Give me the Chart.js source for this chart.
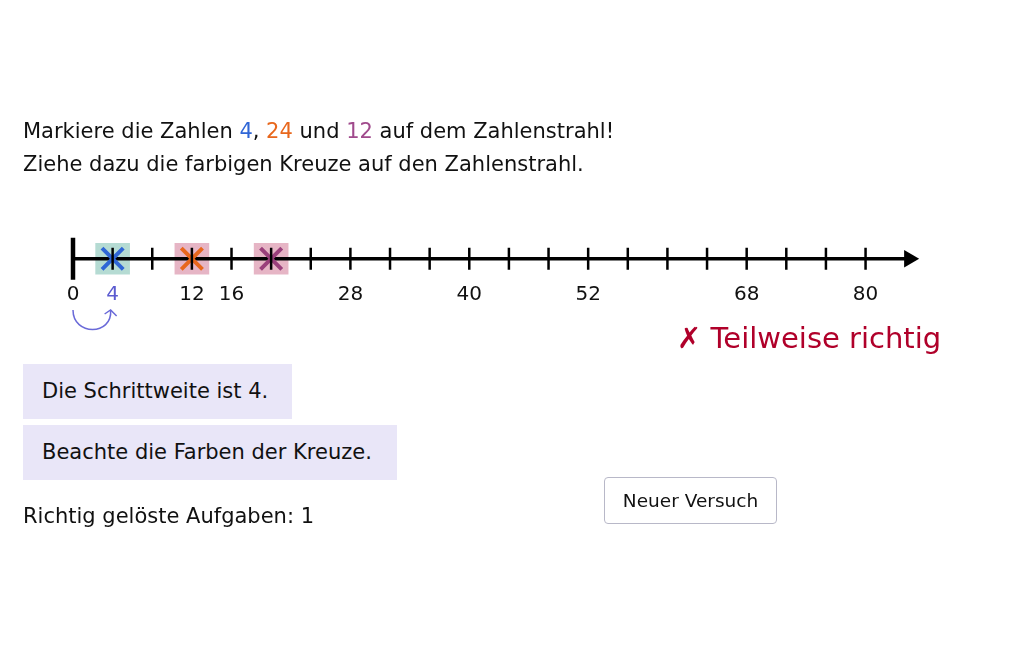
<!DOCTYPE html>
<html><head><meta charset="utf-8">
<script src="https://cdn.jsdelivr.net/npm/chart.js@4"></script>
<style>
body{margin:0;background:#fff;font-family:"DejaVu Sans","Open Sans",sans-serif;}
#wrap{position:relative;width:1032px;height:645px;}
canvas{position:absolute;left:0;top:0;}
.t{position:absolute;font-size:21px;color:#111;white-space:nowrap;}
.box{position:absolute;background:#e9e6f8;font-size:21px;color:#111;padding-left:19px;box-sizing:border-box;line-height:55px;}
#btn{position:absolute;left:604px;top:477px;width:173px;height:47px;border:1px solid #b8b8c8;border-radius:4px;box-sizing:border-box;text-align:center;line-height:45px;font-size:18.5px;color:#111;}
</style></head><body>
<div id="wrap">
<canvas id="myChart" width="1032" height="645"></canvas>
<div class="t" style="left:23px;top:119px">Markiere die Zahlen <span style="color:#2f66d6">4</span>, <span style="color:#e8671c">24</span> und <span style="color:#a04a8c">12</span> auf dem Zahlenstrahl!</div>
<div class="t" style="left:23px;top:152px">Ziehe dazu die farbigen Kreuze auf den Zahlenstrahl.</div>
<div class="t" style="left:677px;top:321px;font-size:29px;color:#b0002a">✗ Teilweise richtig</div>
<div class="box" style="left:23px;top:364px;width:269px;height:55px">Die Schrittweite ist 4.</div>
<div class="box" style="left:23px;top:425px;width:374px;height:55px">Beachte die Farben der Kreuze.</div>
<div class="t" style="left:23px;top:504px">Richtig gelöste Aufgaben: 1</div>
<div id="btn">Neuer Versuch</div>
</div>
<script>
const tickValues = [4,8,12,16,20,24,28,32,36,40,44,48,52,56,60,64,68,72,76,80];
const axisTicks = [0].concat(tickValues);
const shownLabels = [0,4,12,16,28,40,52,68,80];
const labelColors = {4: "#5b5bd0"};
const crossValues = [4, 12, 20];
const crossColors = ["#2f66d6", "#e8671c", "#9a3f7b"];
const boxColors = ["rgba(120,190,175,0.55)", "rgba(210,120,150,0.55)", "rgba(210,120,150,0.55)"];
const lineEnd = 84;
const arrowAt = 84.4;

const arc = {
  id: "arc",
  afterDraw(chart) {
    const x = chart.scales.x, c = chart.ctx;
    const x0 = x.getPixelForValue(0), x1 = x.getPixelForValue(4);
    const y = 310;
    c.save();
    c.strokeStyle = "#6a6ad8"; c.lineWidth = 1.5;
    c.beginPath();
    c.moveTo(x0, y);
    c.bezierCurveTo(x0, y + 26, x1, y + 26, x1 - 2, y);
    c.stroke();
    c.beginPath();
    c.moveTo(x1 - 8, y + 4); c.lineTo(x1 - 2, y); c.lineTo(x1 + 4, y + 6);
    c.stroke();
    c.restore();
  }
};

const ctx = document.querySelector("#myChart").getContext("2d");
new Chart(ctx, {
  type: "scatter",
  data: {
    datasets: [
      { data: crossValues.map(v => ({x: v, y: 0})), pointStyle: "rect", pointRadius: 24.5,
        pointBackgroundColor: boxColors, pointBorderWidth: 0, order: 6 },
      { type: "line", data: [{x: 0, y: 0}, {x: lineEnd, y: 0}], borderColor: "#000",
        borderWidth: 3.5, pointRadius: 0, order: 5, clip: false },
      { data: [{x: arrowAt, y: 0}], pointStyle: "triangle", rotation: 90, pointRadius: 10,
        pointBackgroundColor: "#000", pointBorderWidth: 0, order: 4, clip: false },
      { data: crossValues.map(v => ({x: v, y: 0})), pointStyle: "crossRot", pointRadius: 15,
        pointBorderColor: crossColors, pointBorderWidth: 4, order: 3 },
      { data: tickValues.map(v => ({x: v, y: 0})), pointStyle: "line", rotation: 90,
        pointRadius: 11, pointBorderColor: "#000", pointBorderWidth: 2.5, order: 2, clip: false },
      { data: [{x: 0, y: 0}], pointStyle: "line", rotation: 90,
        pointRadius: 21, pointBorderColor: "#000", pointBorderWidth: 4.5, order: 1, clip: false }
    ]
  },
  options: {
    animation: false, responsive: false, events: [],
    layout: { padding: { left: 73, right: 107, top: 243, bottom: 339 } },
    plugins: { legend: { display: false }, tooltip: { enabled: false } },
    scales: {
      x: { type: "linear", min: 0, max: 86, grid: { display: false }, border: { display: false },
        afterBuildTicks: s => { s.ticks = axisTicks.map(v => ({value: v})); },
        ticks: { autoSkip: false, maxRotation: 0, padding: 0,
          font: { size: 20, family: "DejaVu Sans" },
          color: c => labelColors[c.tick.value] || "#111",
          callback: v => shownLabels.includes(v) ? String(v) : "" } },
      y: { display: false, min: -1, max: 1 }
    }
  },
  plugins: [arc]
});
</script>
</body></html>
